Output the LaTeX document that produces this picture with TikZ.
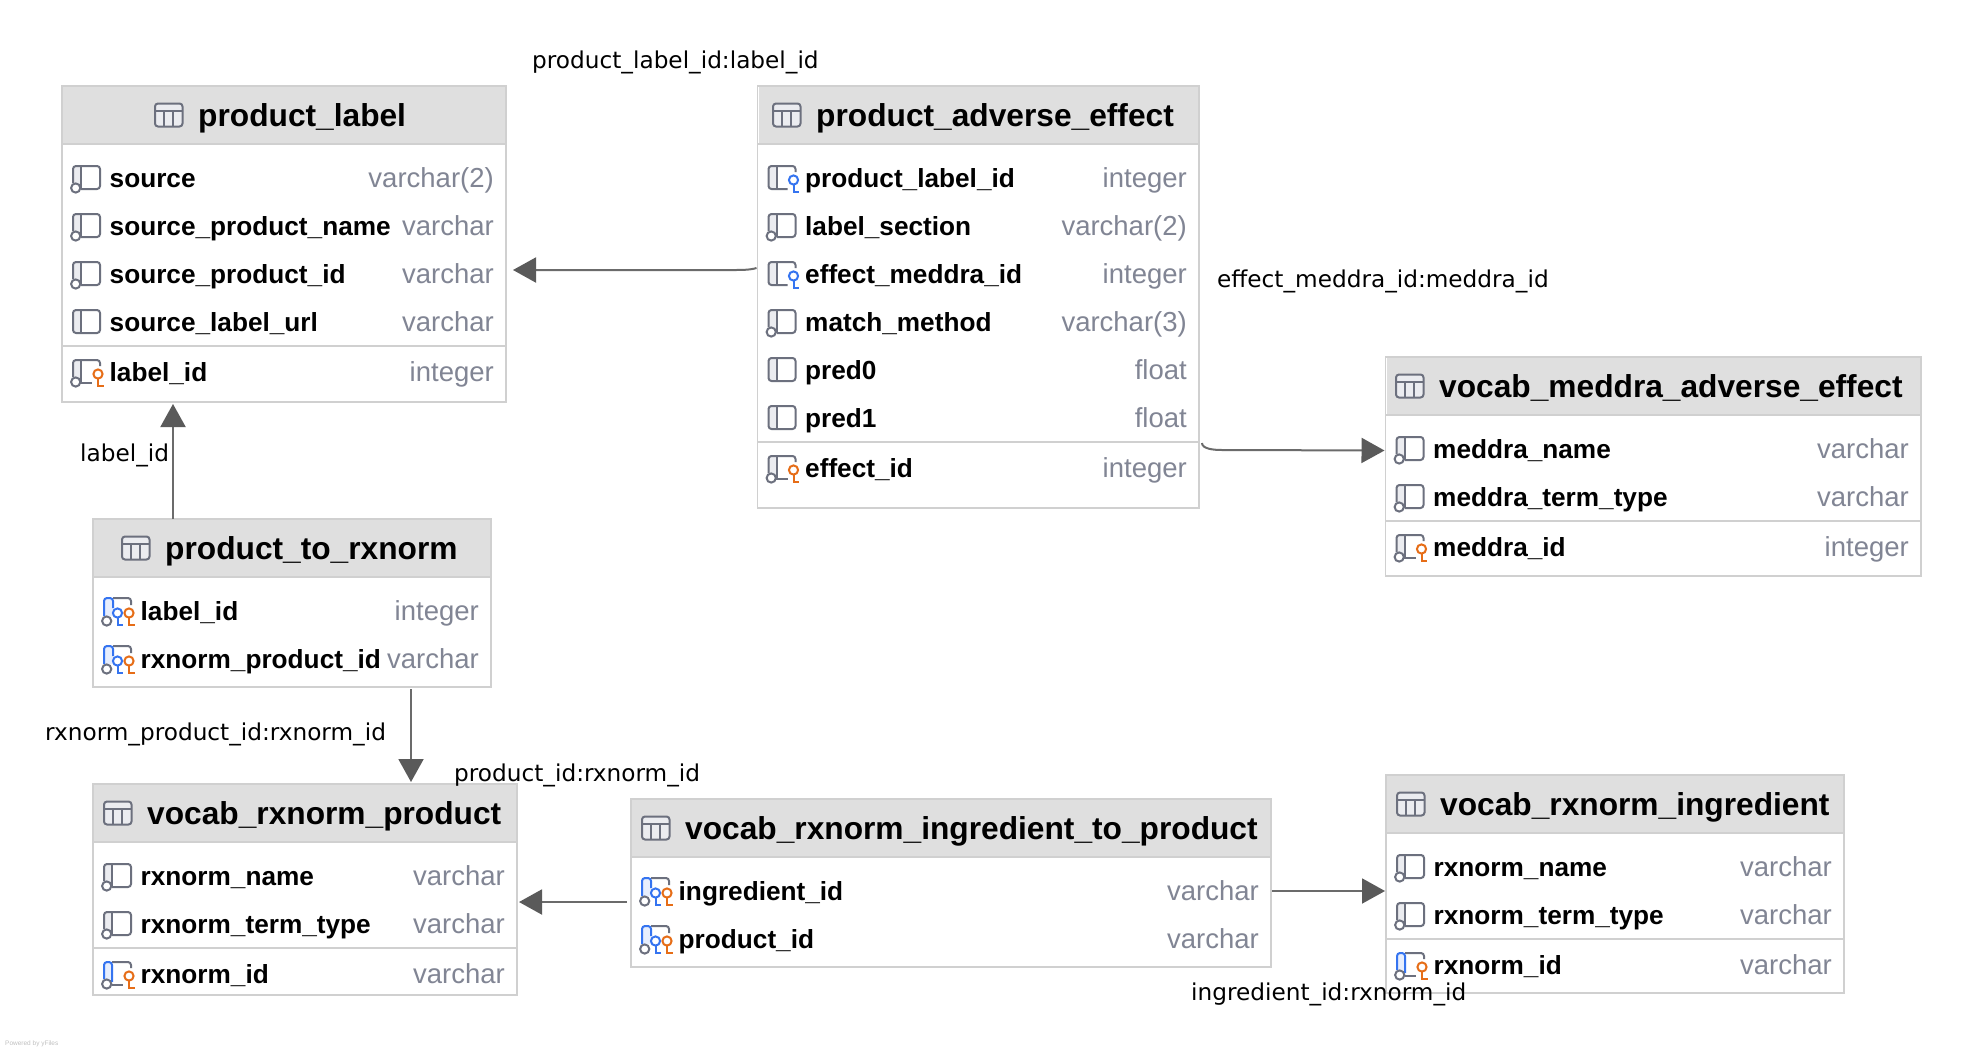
\documentclass[tikz,border=0pt]{standalone}
\usepackage{fontspec}
\usepackage{xcolor}
\usetikzlibrary{arrows.meta}
\setmainfont{Liberation Sans}
\newfontfamily\edgefont{DejaVu Sans}

\definecolor{boxline}{HTML}{D0D0D0}
\definecolor{headfill}{HTML}{DFDFDF}
\definecolor{iconline}{HTML}{6C707E}
\definecolor{iconpanel}{HTML}{EBECF0}
\definecolor{keyblue}{HTML}{3574F0}
\definecolor{keyorange}{HTML}{E66D17}
\definecolor{typegray}{HTML}{818594}
\definecolor{arrowgray}{HTML}{5A5A5A}

% small pieces of the column icons
\newcommand{\keyglyph}[2]{%
    \draw[#1,fill=white,line width=2pt] (#2,2) circle (4.6pt);
    \draw[#1,line width=2pt] (#2,6.6) -- (#2,14) -- ++(5.5,0);
}
\newcommand{\nullring}{\draw[iconline,fill=white,line width=2pt] (2.7,10) circle (4.6pt);}
\newcommand{\iconpanelfill}{\fill[iconpanel] (0,-12) rectangle (8,11);}

\tikzset{
    tablebox/.style={draw=boxline,line width=1.5pt,fill=white,inner sep=0pt,outer sep=0pt,anchor=north west},
    sepline/.style={draw=boxline,line width=2pt},
    titletext/.style={anchor=base west,inner sep=0pt,font=\fontsize{31.7}{38}\selectfont\bfseries,text=black},
    colname/.style={anchor=base west,inner sep=0pt,font=\fontsize{26.2}{32}\selectfont\bfseries,text=black},
    coltype/.style={anchor=base east,inner sep=0pt,font=\fontsize{27.5}{32}\selectfont,text=typegray},
    edgetext/.style={anchor=west,inner sep=0pt,font=\edgefont\fontsize{23.2}{28}\selectfont,text=black},
    fklink/.style={draw=arrowgray!90,line width=2pt,-{Triangle[length=23pt,width=25pt,color=arrowgray]}},
    tableicon/.pic={
        \draw[iconline,fill=iconpanel,line width=2pt,rounded corners=3pt] (0,-11.5) rectangle (27.5,11.5);
        \draw[iconline,line width=2pt] (0,-4.5) -- (27.5,-4.5) (9,-4.5) -- (9,11.5) (18,-4.5) -- (18,11.5);
    },
    colplain/.pic={
        \iconpanelfill
        \draw[iconline,line width=2pt,rounded corners=3pt] (0,-12) rectangle (27,11);
        \draw[iconline,line width=2pt] (8,-12) -- (8,11);
    },
    colnull/.pic={
        \iconpanelfill
        \draw[iconline,line width=2pt,rounded corners=3pt] (0,5) -- (0,-12) -- (27,-12) -- (27,11) -- (8,11);
        \draw[iconline,line width=2pt] (8,-12) -- (8,11);
        \nullring
    },
    colfk/.pic={
        \iconpanelfill
        \draw[iconline,line width=2pt,rounded corners=3pt] (27,-6) -- (27,-12) -- (0,-12) -- (0,11) -- (19,11);
        \draw[iconline,line width=2pt] (8,-12) -- (8,11);
        \keyglyph{keyblue}{25}
    },
    colpk/.pic={
        \iconpanelfill
        \draw[iconline,line width=2pt,rounded corners=3pt] (0,5) -- (0,-12) -- (27,-12) -- (27,-6);
        \draw[iconline,line width=2pt] (8,-12) -- (8,11) -- (19,11);
        \nullring
        \keyglyph{keyorange}{25}
    },
    colrail/.pic={
        \fill[keyblue!12] (0,-12) rectangle (8,5);
        \draw[iconline,line width=2pt,rounded corners=3pt] (8,-12) -- (27,-12) -- (27,-6);
        \draw[iconline,line width=2pt] (8,11) -- (19,11);
        \draw[keyblue,line width=2pt,rounded corners=3pt] (0,5) -- (0,-12) -- (8,-12) -- (8,8);
        \nullring
        \keyglyph{keyorange}{25}
    },
    colboth/.pic={
        \fill[keyblue!12] (0,-13) rectangle (9,5);
        \draw[iconline,line width=2pt,rounded corners=3pt] (9,-13) -- (27,-13) -- (27,-6);
        \draw[keyblue,line width=2pt,rounded corners=3pt] (0,5) -- (0,-13) -- (9,-13) -- (9,-3);
        \nullring
        \keyglyph{keyblue}{13.5}
        \keyglyph{keyorange}{25}
    },
}

% name, left, top, right, bottom, head bottom, icon left, title
\newcommand{\dbtable}[8]{%
    \node[tablebox,minimum width={(#4-#2)*1pt},minimum height={(#5-#3)*1pt}] (#1) at (#2,#3) {};
    \fill[headfill] (#2+1,#3+1) rectangle (#4-1,#6);
    \draw[sepline] (#2,#6) -- (#4,#6);
    \pic at (#7,{(#3+#6)/2}) {tableicon};
    \node[titletext] (#1-title) at (#7+43,{(#3+#6)/2+11.5}) {#8};
}
% name, left, right, rows as y/column/type/icon
\newcommand{\dbrows}[4]{%
    \foreach \ry/\cname/\ctype/\cicon [count=\i] in {#4} {
        \pic at (#2+11,\ry) {\cicon};
        \node[colname] (#1-\i) at (#2+47.5,\ry+9) {\cname};
        \node[coltype] (#1-type\i) at (#3-12,\ry+9) {\ctype};
    }
}

\begin{document}
\begin{tikzpicture}[x=1pt,y=-1pt]
    \useasboundingbox (0,0) rectangle (1962,1052);

    \dbtable{plabel}{62}{86}{506}{402}{144}{155}{product\_label}
    \dbrows{plabel}{62}{506}{178/source/varchar(2)/colnull,226/source\_product\_name/varchar/colnull,274/source\_product\_id/varchar/colnull,322/source\_label\_url/varchar/colplain,372/label\_id/integer/colpk}
    \draw[sepline] (62,346) -- (506,346);

    \dbtable{adverse}{757.5}{86}{1199}{508}{144}{773}{product\_adverse\_effect}
    \dbrows{adverse}{757.5}{1199}{178/product\_label\_id/integer/colfk,226/label\_section/varchar(2)/colnull,274/effect\_meddra\_id/integer/colfk,322/match\_method/varchar(3)/colnull,370/pred0/float/colplain,418/pred1/float/colplain,468/effect\_id/integer/colpk}
    \draw[sepline] (757.5,442) -- (1199,442);

    \dbtable{meddra}{1385.5}{357}{1921}{576}{415}{1396}{vocab\_meddra\_adverse\_effect}
    \dbrows{meddra}{1385.5}{1921}{449/meddra\_name/varchar/colnull,497/meddra\_term\_type/varchar/colnull,547/meddra\_id/integer/colpk}
    \draw[sepline] (1385.5,521) -- (1921,521);

    \dbtable{toprx}{93}{519}{491}{687}{577}{122}{product\_to\_rxnorm}
    \dbrows{toprx}{93}{491}{611/label\_id/integer/colboth,659/rxnorm\_product\_id/varchar/colboth}

    \dbtable{rxprod}{93}{784}{517}{995}{842}{104}{vocab\_rxnorm\_product}
    \dbrows{rxprod}{93}{517}{876/rxnorm\_name/varchar/colnull,924/rxnorm\_term\_type/varchar/colnull,974/rxnorm\_id/varchar/colrail}
    \draw[sepline] (93,948) -- (517,948);

    \dbtable{ingprod}{631}{799}{1271}{967}{857}{642}{vocab\_rxnorm\_ingredient\_to\_product}
    \dbrows{ingprod}{631}{1271}{891/ingredient\_id/varchar/colboth,939/product\_id/varchar/colboth}

    \dbtable{rxing}{1386}{775}{1844}{993}{833}{1397}{vocab\_rxnorm\_ingredient}
    \dbrows{rxing}{1386}{1844}{867/rxnorm\_name/varchar/colnull,915/rxnorm\_term\_type/varchar/colnull,965/rxnorm\_id/varchar/colrail}
    \draw[sepline] (1386,939) -- (1844,939);

    % foreign keys
    \draw[fklink] ([xshift=-1pt,yshift=29pt]adverse.west) .. controls +(-6,2) and +(6,0) .. ++(-22,2) -- ([xshift=7pt,yshift=-26pt]plabel.east);
    \draw[fklink] ([xshift=3pt,yshift=-146pt]adverse.east) .. controls +(0,6) and +(-8,0) .. ++(20,7) -- ([xshift=-1pt,yshift=16pt]meddra.west);
    \draw[fklink] ([xshift=-119pt]toprx.north) -- ([xshift=-111pt,yshift=-2pt]plabel.south);
    \draw[fklink] ([xshift=119pt,yshift=-2pt]toprx.south) -- ([xshift=106pt,yshift=2pt]rxprod.north);
    \draw[fklink] ([xshift=-4pt,yshift=-19pt]ingprod.west) -- ([xshift=2pt,yshift=-12.5pt]rxprod.east);
    \draw[fklink] ([xshift=1pt,yshift=-8pt]ingprod.east) -- ([xshift=-1pt,yshift=-7pt]rxing.west);

    \node[edgetext] (lblplabel) at (532,62) {product\_label\_id:label\_id};
    \node[edgetext] (lblmeddra) at (1217,281) {effect\_meddra\_id:meddra\_id};
    \node[edgetext] (lbllabel) at (80,455) {label\_id};
    \node[edgetext] (lblrxprod) at (45,734) {rxnorm\_product\_id:rxnorm\_id};
    \node[edgetext] (lblprodid) at (454,775) {product\_id:rxnorm\_id};
    \node[edgetext] (lblingred) at (1191,994) {ingredient\_id:rxnorm\_id};

    \node[anchor=west,inner sep=0pt,font=\fontsize{6.5}{8}\selectfont,text=black!25] (yfiles) at (5,1044) {Powered by yFiles};
\end{tikzpicture}
\end{document}
